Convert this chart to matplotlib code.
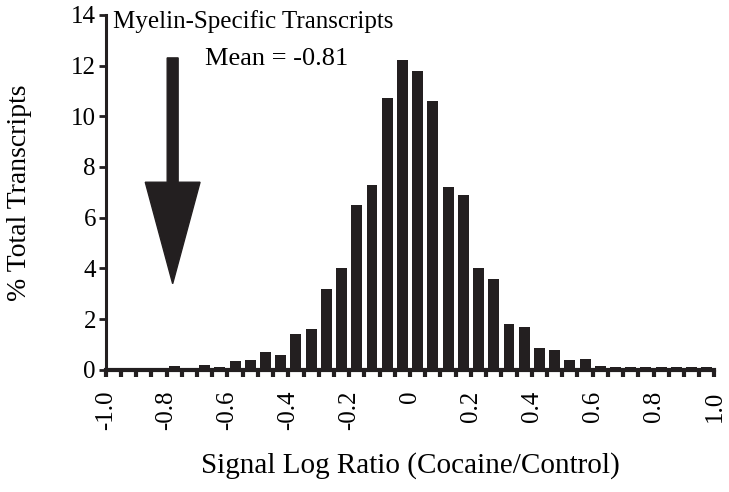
import numpy as np
import matplotlib.pyplot as plt

plt.rcParams['font.family'] = ['Liberation Serif', 'DejaVu Serif']

# % of transcripts in each 0.05-wide signal log ratio bin, -1.0 .. 1.0
bin_left = np.arange(-1.0, 1.0, 0.05)
pct = [0, 0, 0, 0, 0.15, 0, 0.18, 0.1, 0.35, 0.4,
       0.7, 0.6, 1.4, 1.6, 3.2, 4.0, 6.5, 7.3, 10.7, 12.2,
       11.8, 10.6, 7.2, 6.9, 4.0, 3.6, 1.8, 1.7, 0.85, 0.8,
       0.4, 0.45, 0.15, 0.1, 0.1, 0.1, 0.1, 0.12, 0.1, 0.12]
xticks = [-1.0, -0.8, -0.6, -0.4, -0.2, 0, 0.2, 0.4, 0.6, 0.8, 1.0]
xtick_labels = ["-1.0", "-0.8", "-0.6", "-0.4", "-0.2", "0", "0.2", "0.4", "0.6", "0.8", "1.0"]
yticks = [0, 2, 4, 6, 8, 10, 12, 14]
mean_ratio = -0.81
arrow_x = -0.78

dark = "#231f20"

fig = plt.figure(figsize=(7.29, 4.92), dpi=100)
ax = fig.add_axes([0.145, 0.248, 0.835, 0.722])

centers = bin_left + 0.025
ax.bar(centers, pct, width=0.036, color=dark, zorder=2)

ax.arrow(arrow_x, 12.3, 0, 3.4 - 12.3, width=0.036, head_width=0.18,
         head_length=4.0, length_includes_head=True, color=dark, zorder=3)

ax.text(-0.975, 14.2, "Myelin-Specific Transcripts", fontsize=18, va="top", ha="left")
ax.text(-0.44, 12.25, "Mean = %.2f" % mean_ratio, fontsize=19, va="center", ha="center")

ax.set_xlim(-1.0, 1.0)
ax.set_ylim(0, 14)
ax.set_xticks(xticks)
ax.set_xticklabels(xtick_labels, rotation=90, fontsize=18)
ax.set_xticks(np.arange(-1.0, 1.001, 0.05), minor=True)
ax.set_yticks(yticks)
ax.set_yticklabels([str(v) for v in yticks], fontsize=18)

ax.spines["top"].set_visible(False)
ax.spines["right"].set_visible(False)
ax.spines["left"].set_linewidth(2.2)
ax.spines["bottom"].set_linewidth(3)
ax.spines["left"].set_color(dark)
ax.spines["bottom"].set_color(dark)
ax.tick_params(axis="x", which="both", direction="out", length=5, width=3, color=dark, pad=10)
ax.tick_params(axis="y", direction="out", length=5, width=2, color=dark, pad=2)

ax.set_xlabel("Signal Log Ratio (Cocaine/Control)", fontsize=21, labelpad=16)
ax.set_ylabel("% Total Transcripts", fontsize=20, labelpad=28)

fig.savefig("out.png", dpi=100)
